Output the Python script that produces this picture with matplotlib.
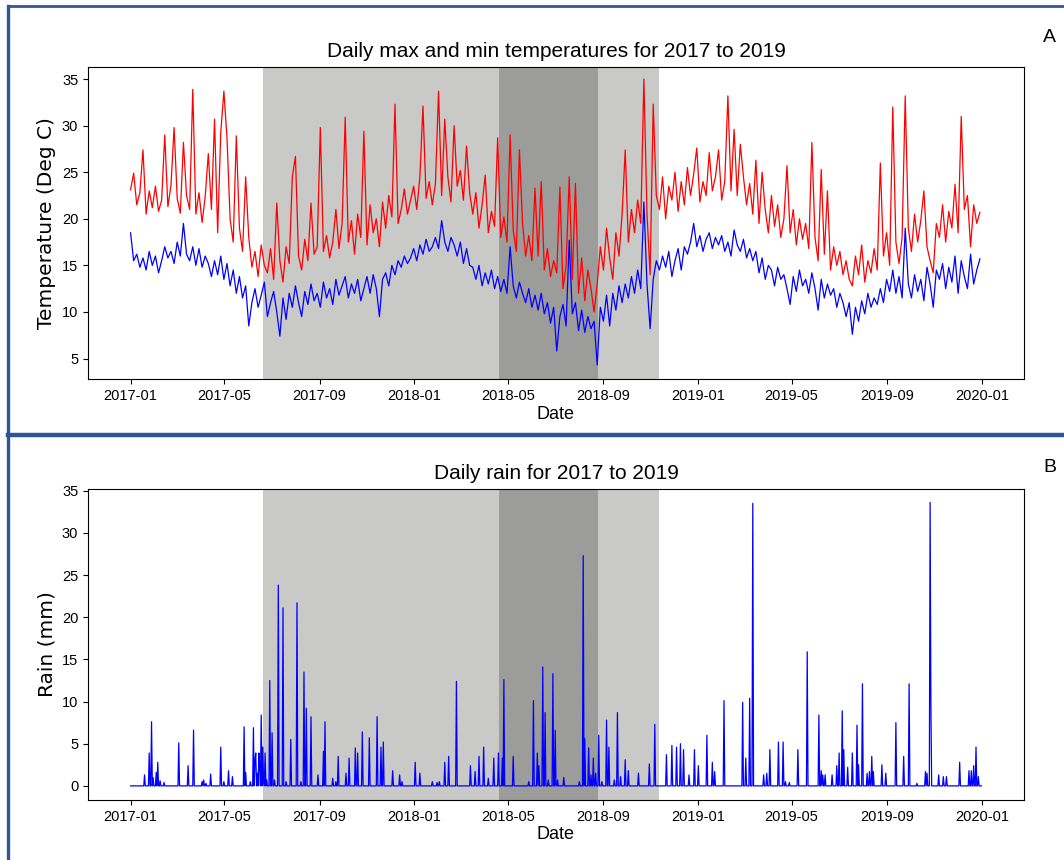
import numpy as np
import pandas as pd
import matplotlib
matplotlib.use("Agg")
import matplotlib.pyplot as plt
import matplotlib.dates as mdates
from matplotlib.lines import Line2D

tmax = [23.1, 24.9, 21.5, 22.8, 27.4, 20.5, 23.0, 21.2, 23.5, 20.8,
        22.0, 29.0, 21.3, 23.6, 29.8, 22.2, 20.6, 28.2, 22.5, 21.0,
        33.9, 20.5, 22.8, 19.6, 22.4, 27.0, 21.0, 30.7, 18.5, 29.3,
        33.7, 28.7, 20.0, 17.5, 28.9, 19.0, 16.5, 24.5, 18.0, 14.8,
        16.5, 13.8, 17.2, 15.0, 14.2, 16.8, 13.5, 21.7, 15.5, 13.2,
        17.0, 15.2, 24.5, 26.7, 16.0, 14.5, 17.8, 15.5, 21.7, 16.2,
        17.0, 29.8, 16.5, 18.2, 15.8, 17.5, 21.0, 16.8, 19.5, 30.9,
        17.5, 19.8, 16.2, 20.5, 18.0, 29.4, 17.2, 21.5, 18.5, 20.0,
        17.0, 21.8, 19.0, 22.5, 20.2, 32.3, 19.5, 21.0, 23.2, 20.5,
        22.0, 23.5, 21.0, 24.5, 32.1, 22.2, 24.0, 21.5, 23.8, 33.7,
        22.5, 30.7, 24.5, 21.8, 30.0, 23.5, 25.2, 22.0, 27.8, 22.8,
        20.5, 22.8, 19.0, 21.5, 24.7, 18.5, 20.8, 19.2, 28.7, 18.0,
        20.2, 17.5, 29.0, 18.8, 16.5, 27.4, 19.5, 16.0, 18.2, 15.5,
        23.3, 16.0, 24.0, 14.5, 16.8, 13.8, 15.5, 14.2, 23.4, 12.5,
        15.0, 24.5, 13.5, 23.8, 12.0, 15.8, 11.2, 14.5, 12.5, 10.0,
        13.0, 17.0, 14.5, 19.0, 15.8, 13.5, 18.5, 16.0, 20.5, 27.4,
        17.5, 21.0, 18.5, 22.0, 19.5, 35.0, 20.5, 14.0, 32.3, 22.5,
        21.0, 24.5, 20.0, 23.5, 22.0, 25.0, 20.8, 24.0, 21.5, 25.5,
        22.5, 24.8, 27.6, 21.8, 24.0, 22.5, 27.1, 23.0, 24.5, 27.4,
        22.0, 24.0, 33.2, 23.0, 29.6, 22.5, 28.0, 24.5, 21.5, 23.8,
        20.5, 26.3, 19.5, 25.0, 21.0, 18.5, 22.5, 19.2, 21.5, 18.0,
        20.0, 25.7, 18.5, 21.0, 17.2, 20.0, 17.8, 19.5, 16.8, 28.2,
        18.0, 15.5, 25.3, 16.2, 23.0, 14.5, 17.0, 15.0, 16.5, 14.0,
        15.5, 13.5, 12.8, 16.0, 14.0, 17.2, 13.2, 15.5, 14.2, 16.8,
        14.5, 26.0, 16.0, 18.5, 15.0, 32.0, 17.5, 15.2, 18.0, 33.2,
        19.0, 16.5, 20.5, 17.5, 19.8, 23.0, 17.0, 15.5, 14.2, 19.5,
        18.0, 21.5, 17.5, 20.8, 19.0, 23.7, 18.5, 31.0, 21.0, 22.5,
        17.0, 21.5, 19.5, 20.7]
tmin = [18.5, 15.5, 16.2, 14.8, 15.8, 14.5, 16.5, 15.0, 16.0, 14.2,
        15.5, 17.0, 15.8, 16.5, 15.2, 17.5, 16.0, 19.5, 16.2, 15.5,
        17.0, 15.0, 16.8, 14.8, 16.0, 15.2, 13.8, 15.5, 14.0, 16.0,
        13.5, 15.2, 12.8, 14.5, 12.0, 13.8, 11.5, 12.8, 8.5, 11.0,
        12.5, 10.5, 11.8, 13.2, 9.5, 11.0, 12.2, 10.0, 7.4, 11.5,
        9.2, 12.0, 10.5, 12.8, 11.0, 9.5, 12.2, 10.8, 13.0, 11.2,
        12.0, 10.5, 13.2, 11.5, 12.5, 10.8, 13.5, 11.8, 12.8, 13.8,
        11.5, 13.0, 12.0, 13.5, 11.2, 12.5, 13.8, 12.0, 14.0, 12.5,
        9.5, 13.5, 14.2, 12.8, 15.0, 14.0, 15.5, 14.8, 16.0, 15.2,
        15.8, 16.8, 15.5, 17.2, 16.2, 17.8, 16.5, 17.0, 18.0, 16.8,
        19.8, 17.5, 16.5, 18.0, 17.2, 16.0, 17.5, 15.2, 16.8, 15.0,
        14.8, 13.5, 15.0, 12.8, 14.2, 13.0, 14.5, 12.5, 13.8, 12.2,
        13.5, 12.0, 17.0, 12.8, 11.5, 13.2, 12.0, 11.0, 12.5, 10.5,
        11.8, 10.2, 12.0, 9.8, 11.0, 8.8, 10.5, 5.8, 9.5, 10.8,
        8.5, 17.7, 9.8, 11.0, 8.0, 10.2, 7.8, 9.5, 8.2, 9.0,
        4.3, 10.5, 9.0, 11.8, 8.5, 12.0, 10.2, 12.8, 11.0, 13.0,
        11.5, 13.8, 12.0, 14.5, 12.5, 21.8, 13.0, 8.2, 13.5, 15.5,
        14.5, 16.0, 14.8, 16.5, 13.8, 15.5, 16.8, 14.5, 17.0, 16.2,
        17.5, 19.5, 17.0, 18.2, 16.5, 17.8, 18.5, 16.8, 18.0, 17.2,
        18.2, 16.5, 17.5, 16.0, 18.8, 17.2, 16.5, 17.8, 15.8, 16.8,
        15.5, 16.5, 14.2, 15.8, 13.5, 15.0, 14.5, 12.8, 14.8, 13.5,
        14.0, 12.5, 10.8, 13.8, 12.2, 14.5, 12.8, 13.5, 12.0, 14.2,
        12.5, 10.2, 13.5, 11.5, 13.0, 11.8, 12.5, 10.5, 12.0, 11.0,
        9.5, 11.0, 7.6, 10.5, 9.0, 11.2, 9.8, 12.0, 10.5, 11.5,
        10.8, 12.5, 11.0, 13.5, 12.2, 14.5, 12.0, 13.8, 11.5, 19.0,
        13.0, 11.5, 14.0, 12.2, 13.5, 11.2, 14.8, 13.0, 10.5, 14.5,
        13.5, 15.2, 12.5, 14.8, 13.2, 16.0, 12.0, 15.5, 13.8, 12.5,
        16.2, 13.0, 14.5, 15.7]

# rain events: day number since 2017-01-01 and amount (mm); other days dry
rain_day = [18, 24, 27, 29, 33, 35, 38, 43, 62, 74, 81, 92, 94, 97, 103, 116, 120, 126, 131,
            146, 148, 154, 158, 160, 161, 163, 165, 166, 168, 170, 171, 173, 175, 179, 182,
            185, 190, 196, 200, 206, 214, 219, 223, 226, 232, 241, 248, 250, 260, 264, 267,
            277, 281, 289, 292, 298, 307, 317, 322, 325, 337, 346, 349, 366, 372, 388, 394,
            397, 404, 409, 419, 437, 443, 448, 454, 460, 467, 473, 478, 480, 492, 512, 518,
            523, 525, 530, 533, 537, 543, 546, 549, 557, 577, 582, 584, 589, 592, 595, 598,
            602, 606, 612, 615, 622, 626, 630, 636, 640, 653, 667, 674, 689, 696, 702, 707,
            711, 718, 725, 730, 741, 748, 751, 763, 787, 791, 796, 800, 814, 818, 822, 833,
            839, 842, 847, 858, 870, 885, 888, 890, 893, 902, 908, 911, 915, 917, 922, 928,
            934, 936, 941, 947, 950, 953, 955, 966, 971, 984, 994, 1001, 1011, 1022, 1024,
            1028, 1029, 1039, 1045, 1049, 1066, 1078, 1081, 1084, 1087, 1090]
rain_mm = [1.3, 3.9, 7.6, 1.0, 1.6, 2.8, 0.6, 0.4, 5.1, 2.4, 6.6, 0.5, 0.7, 0.3, 1.4, 4.6, 0.5, 1.8, 1.1,
           7.0, 1.6, 0.5, 6.9, 3.1, 3.9, 1.5, 3.9, 2.3, 8.4, 4.6, 0.7, 3.9, 0.7, 12.5, 6.3,
           0.7, 23.8, 21.1, 0.5, 5.5, 21.7, 0.5, 13.5, 9.2, 8.2, 1.3, 4.1, 7.6, 0.9, 0.5, 3.5,
           1.5, 3.3, 4.5, 3.9, 6.4, 5.7, 8.2, 4.6, 5.2, 1.8, 1.3, 0.5, 2.8, 1.5, 0.5, 0.4,
           0.5, 2.8, 3.5, 12.4, 2.4, 1.7, 3.5, 4.6, 0.9, 3.3, 3.9, 3.3, 12.6, 3.5, 0.5, 10.1,
           3.9, 2.4, 14.1, 8.7, 0.7, 13.3, 6.6, 0.7, 1.0, 0.5, 27.3, 5.6, 4.5, 1.3, 3.3, 1.5,
           6.0, 0.5, 7.8, 4.6, 0.7, 8.7, 1.1, 3.1, 1.8, 1.5, 2.6, 7.3, 3.7, 4.8, 4.6, 5.0,
           4.3, 1.3, 4.3, 2.4, 6.0, 2.8, 1.7, 10.1, 9.9, 3.3, 10.4, 33.5, 1.3, 1.5, 4.3, 5.2,
           5.2, 0.5, 0.4, 4.3, 15.9, 8.4, 1.8, 1.3, 1.3, 1.3, 2.4, 3.9, 8.9, 4.3, 2.2, 3.9,
           7.2, 2.5, 12.1, 1.5, 1.7, 3.5, 1.7, 2.5, 1.5, 7.5, 3.5, 12.1, 0.3, 1.7, 1.5,
           33.6, 9.6, 1.3, 1.1, 1.1, 2.8, 1.8, 1.8, 2.4, 4.6, 1.1]

# shaded periods
light_span = ("2017-06-20", "2018-11-11")
dark_span = ("2018-04-20", "2018-08-25")

start = pd.Timestamp("2017-01-01")
temp_dates = pd.date_range(start, periods=len(tmax), freq="4D")
days = pd.date_range(start, "2019-12-31", freq="D")
rain = pd.Series(0.0, index=days)
rain.iloc[rain_day] = rain_mm

plt.rcParams['font.family'] = ['Liberation Sans', 'DejaVu Sans']
fig = plt.figure(figsize=(10.64, 8.6), dpi=100)
ax1 = fig.add_axes([0.0827, 0.5593, 0.8797, 0.3628])
ax2 = fig.add_axes([0.0827, 0.0698, 0.8797, 0.3616])

for ax in (ax1, ax2):
    ax.axvspan(pd.Timestamp(light_span[0]), pd.Timestamp(light_span[1]), color="#c9c9c7", lw=0)
    ax.axvspan(pd.Timestamp(dark_span[0]), pd.Timestamp(dark_span[1]), color="#9c9d9b", lw=0)

ax1.plot(temp_dates, tmax, color="red", lw=0.9)
ax1.plot(temp_dates, tmin, color="blue", lw=0.9)
ax2.plot(rain.index, rain.values, color="blue", lw=0.9)

ax1.set_ylim(2.8, 36.3)
ax2.set_ylim(-1.67, 35.2)
ax1.set_xlim(ax2.get_xlim())

ax1.set_title("Daily max and min temperatures for 2017 to 2019", fontsize=15, pad=7)
ax2.set_title("Daily rain for 2017 to 2019", fontsize=15, pad=7)
ax1.set_ylabel("Temperature (Deg C)", fontsize=14.5, family="DejaVu Sans")
ax2.set_ylabel("Rain (mm)", fontsize=14.5, family="DejaVu Sans")
for ax in (ax1, ax2):
    ax.set_xlabel("Date", fontsize=13, labelpad=2)
    ax.xaxis.set_major_locator(mdates.MonthLocator(bymonth=[1, 5, 9]))
    ax.xaxis.set_major_formatter(mdates.DateFormatter("%Y-%m"))
    ax.tick_params(labelsize=10.5)

# document frame and panel letters
blue = "#2f5597"
fig.add_artist(Line2D([0.0075, 0.0075], [0.0, 0.993], transform=fig.transFigure, color=blue, lw=2.4))
fig.add_artist(Line2D([0.0075, 1.0], [0.993, 0.993], transform=fig.transFigure, color=blue, lw=2.0))
fig.add_artist(Line2D([0.0075, 1.0], [0.4942, 0.4942], transform=fig.transFigure, color=blue, lw=3.2))
fig.text(0.986, 0.956, "A", fontsize=14, ha="center", va="center")
fig.text(0.987, 0.456, "B", fontsize=14, ha="center", va="center")

fig.savefig("out.png", dpi=100)
